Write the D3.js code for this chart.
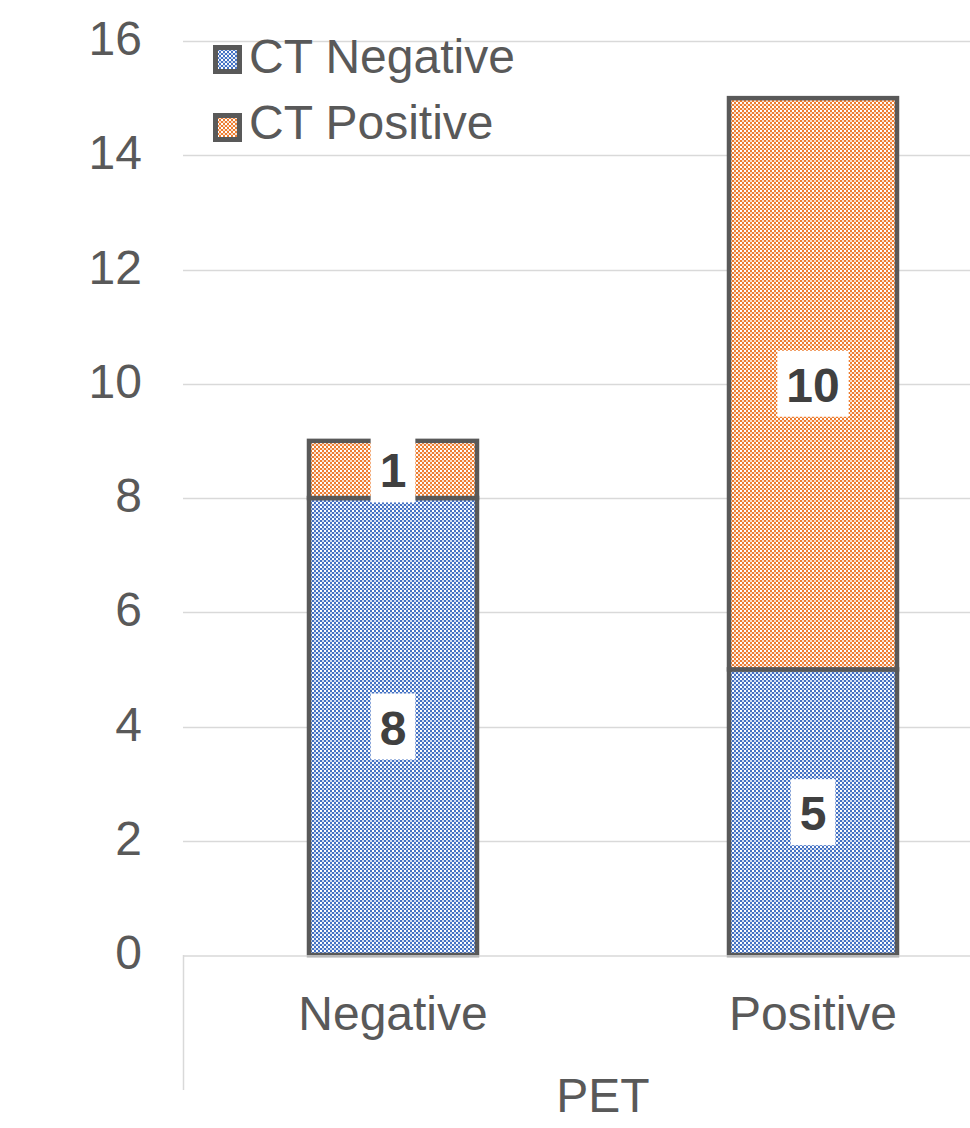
<!DOCTYPE html>
<html>
<head>
<meta charset="utf-8">
<script src="https://cdn.jsdelivr.net/npm/d3@7"></script>
<style>
  html, body { margin: 0; padding: 0; background: #fff; }
  svg { display: block; font-family: "Liberation Sans", Arial, sans-serif; }
</style>
</head>
<body>
<svg id="chart" width="970" height="1128"></svg>
<script>
// PET result categories along the x axis
const categories = ["Negative", "Positive"];
// Stacked series: CT result counts per PET category
const seriesNames = ["CT Negative", "CT Positive"];
const ctNegative = [8, 5];
const ctPositive = [1, 10];
const yTicks = [0, 2, 4, 6, 8, 10, 12, 14, 16];
const axisTitle = "PET";

const colors = { "CT Negative": "#4472C4", "CT Positive": "#ED7D31" };

const svg = d3.select("#chart");
const margin = { left: 183, top: 41, bottom: 173 };
const plotW = 840;
const H = 1128;
const fontSize = 48;

const x = d3.scaleBand().domain(categories).range([margin.left, margin.left + plotW]).paddingInner(0.6).paddingOuter(0.3);
const y = d3.scaleLinear().domain([0, 16]).range([H - margin.bottom, margin.top]);

// checkerboard fills
const defs = svg.append("defs");
seriesNames.forEach((name, i) => {
  const p = defs.append("pattern").attr("id", "pat" + i).attr("patternUnits", "userSpaceOnUse")
    .attr("width", 4).attr("height", 4);
  p.append("rect").attr("width", 4).attr("height", 4).attr("fill", "#fff");
  p.append("rect").attr("width", 2).attr("height", 2).attr("fill", colors[name]);
  p.append("rect").attr("x", 2).attr("y", 2).attr("width", 2).attr("height", 2).attr("fill", colors[name]);
  p.append("rect").attr("x", 2).attr("y", 0).attr("width", 2).attr("height", 2).attr("fill", colors[name]).attr("opacity", 0.25);
});

// gridlines
svg.append("g").selectAll("line").data(yTicks.filter(d => d > 0)).join("line")
  .attr("x1", margin.left).attr("x2", 970)
  .attr("y1", d => Math.round(y(d)) + 0.5).attr("y2", d => Math.round(y(d)) + 0.5)
  .attr("stroke", "#d9d9d9").attr("stroke-width", 1.5);

// y tick labels
svg.append("g").selectAll("text").data(yTicks).join("text")
  .attr("x", 142).attr("y", d => y(d) + 14)
  .attr("text-anchor", "end").attr("font-size", fontSize).attr("fill", "#595959")
  .text(d => d);

// stacked data
const rows = categories.map((c, i) => ({ cat: c, "CT Negative": ctNegative[i], "CT Positive": ctPositive[i] }));
const stacked = d3.stack().keys(seriesNames)(rows);

const bw = x.bandwidth();
stacked.forEach((layer, li) => {
  svg.append("g").selectAll("rect").data(layer).join("rect")
    .attr("x", d => x(d.data.cat)).attr("width", bw)
    .attr("y", d => y(d[1])).attr("height", d => y(d[0]) - y(d[1]))
    .attr("fill", `url(#pat${li})`)
    .attr("stroke", "#595959").attr("stroke-width", 4.5);
});

// category axis line and divider
svg.append("line").attr("x1", margin.left).attr("x2", 970)
  .attr("y1", y(0) + 1).attr("y2", y(0) + 1).attr("stroke", "#d9d9d9").attr("stroke-width", 1.5);
svg.append("line").attr("x1", margin.left + 0.5).attr("x2", margin.left + 0.5)
  .attr("y1", y(0)).attr("y2", 1090).attr("stroke", "#d9d9d9").attr("stroke-width", 1.5);

// category labels
svg.append("g").selectAll("text").data(categories).join("text")
  .attr("x", d => x(d) + bw / 2).attr("y", 1030)
  .attr("text-anchor", "middle").attr("font-size", fontSize).attr("fill", "#595959")
  .text(d => d);

svg.append("text").attr("x", margin.left + plotW / 2).attr("y", 1112)
  .attr("text-anchor", "middle").attr("font-size", fontSize).attr("fill", "#595959").text(axisTitle);

// value labels with white boxes
stacked.forEach(layer => {
  layer.forEach(d => {
    const v = d[1] - d[0];
    const cx = x(d.data.cat) + bw / 2;
    const cy = (y(d[0]) + y(d[1])) / 2;
    const g = svg.append("g");
    const t = g.append("text").attr("x", cx).attr("y", cy + 18)
      .attr("text-anchor", "middle").attr("font-size", fontSize).attr("font-weight", "bold")
      .attr("fill", "#404040").text(v);
    const bb = t.node().getBBox();
    g.insert("rect", "text").attr("x", bb.x - 9).attr("y", cy - 33)
      .attr("width", bb.width + 18).attr("height", 66).attr("fill", "#fff");
  });
});

// legend
const legend = svg.append("g").selectAll("g").data(seriesNames).join("g")
  .attr("transform", (d, i) => `translate(213, ${45 + i * 68})`);
legend.append("rect").attr("x", 2.5).attr("y", 2.5).attr("width", 24).attr("height", 24)
  .attr("fill", (d, i) => `url(#pat${i})`).attr("stroke", "#595959").attr("stroke-width", 5);
legend.append("text").attr("x", 36).attr("y", (d, i) => 28 - i * 2)
  .attr("font-size", fontSize).attr("fill", "#595959").text(d => d);
</script>
</body>
</html>
